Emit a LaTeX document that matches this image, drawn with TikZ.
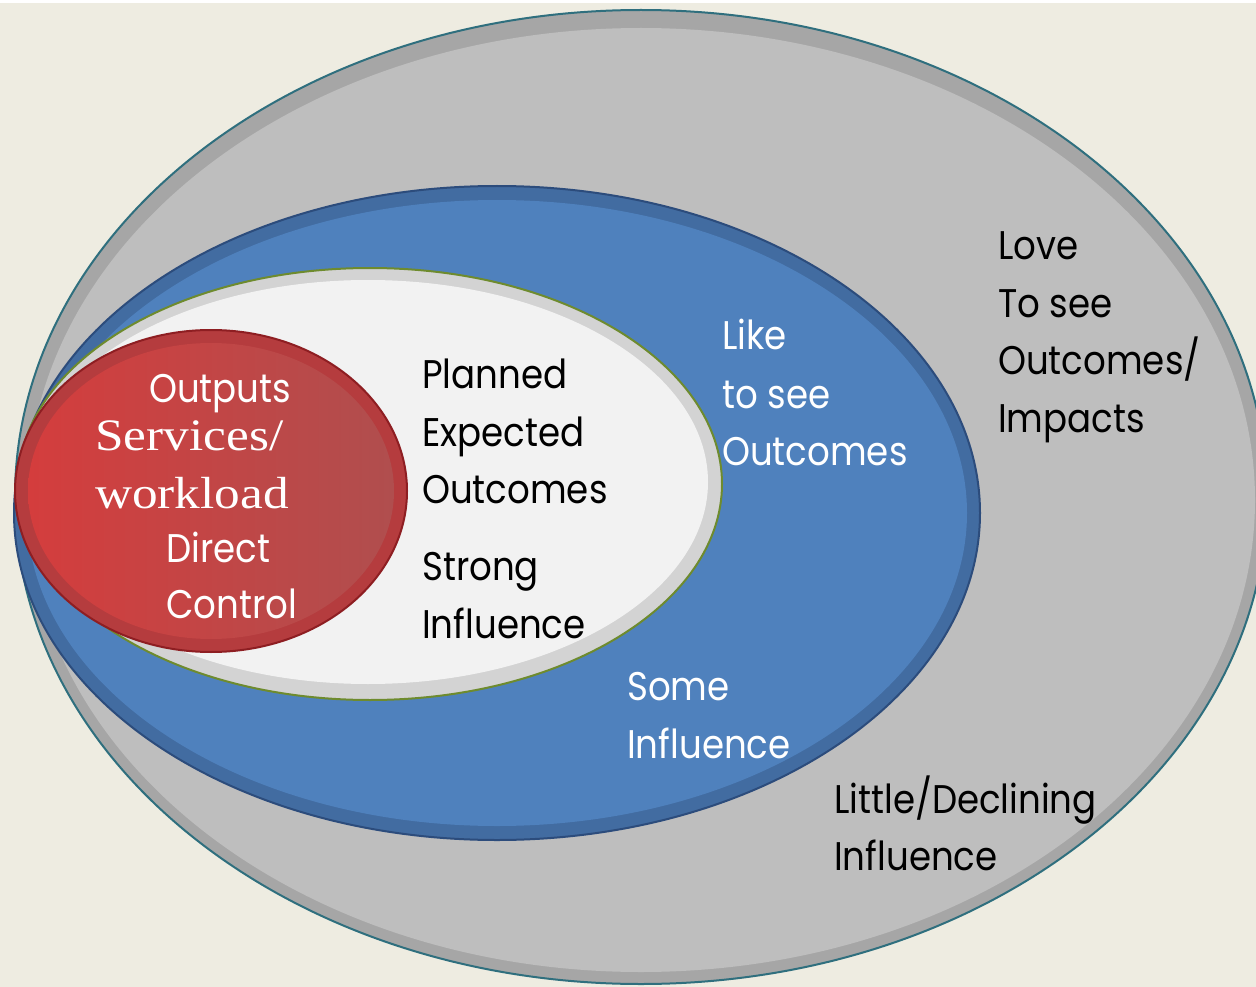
\documentclass[tikz,border=0pt]{standalone}
\usepackage{fontspec}
\setmainfont{Liberation Serif}
\newfontfamily\gothic[FakeStretch=0.89]{Poppins}
\newfontfamily\wideserif[FakeStretch=1.14]{Liberation Serif}
\usepackage{tikz}
\usetikzlibrary{positioning}
\usepackage{xcolor}

\definecolor{paper}{HTML}{EEECE1}
\definecolor{grayrim}{HTML}{2F6F7E}
\definecolor{grayband}{HTML}{A6A6A6}
\definecolor{grayfill}{HTML}{BEBEBE}
\definecolor{bluerim}{HTML}{2C4C7C}
\definecolor{blueband}{HTML}{426CA1}
\definecolor{bluefill}{HTML}{4F81BD}
\definecolor{whiterim}{HTML}{6E8B2E}
\definecolor{whiteband}{HTML}{D3D3D3}
\definecolor{whitefill}{HTML}{F2F2F2}
\definecolor{redrim}{HTML}{8E1E22}
\definecolor{redband}{HTML}{B53C3E}
\definecolor{redleft}{HTML}{D43D3D}
\definecolor{redright}{HTML}{B04E4E}

\tikzset{
  txt/.style={anchor=base west, inner sep=0pt, font=\gothic\fontsize{40}{40}\selectfont},
  txtserif/.style={anchor=base west, inner sep=0pt, font=\wideserif\fontsize{45}{45}\selectfont},
}

\begin{document}
\begin{tikzpicture}[x=1pt,y=-1pt]
        \useasboundingbox (0,0) rectangle (1256,987);
        \clip (0,0) rectangle (1256,987);
        \fill[white] (0,0) rectangle (1256,987);
        \fill[paper] (0,3) rectangle (1256,987);

        % outer ring
        \filldraw[fill=grayband, draw=grayrim, line width=2] (641,497) ellipse [x radius=626, y radius=487];
        \fill[grayfill] (641,500) ellipse [x radius=614, y radius=472];

        % blue ring
        \filldraw[fill=blueband, draw=bluerim, line width=2] (497,513) ellipse [x radius=483, y radius=327];
        \fill[bluefill] (497,513) ellipse [x radius=470, y radius=313];

        % white ring
        \filldraw[fill=whiteband, draw=whiterim, line width=2] (370,484) ellipse [x radius=352, y radius=216];
        \fill[whitefill] (368,482) ellipse [x radius=340, y radius=202];

        % red core
        \filldraw[fill=redband, draw=redrim, line width=2] (211,491) ellipse [x radius=196, y radius=161];
        \shade[left color=redleft, right color=redright] (211,491) ellipse [x radius=183, y radius=148];

        \node[txt, text=white] (outputs) at (149,402) {Outputs};
        \node[txtserif, text=white] (services) at (95,450) {Services/};
        \node[txtserif, text=white] (workload) at (95,508) {workload};
        \node[txt, text=white] (direct) at (166,562) {Direct};
        \node[txt, text=white] (control) at (166,618) {Control};

        \node[txt] (planned) at (422,388) {Planned};
        \node[txt] (expected) at (422,446) {Expected};
        \node[txt] (outcomesA) at (422,503) {Outcomes};
        \node[txt] (strong) at (422,580) {Strong};
        \node[txt] (influenceA) at (422,638) {Influence};

        \node[txt, text=white] (like) at (722,349) {Like};
        \node[txt, text=white] (tosee) at (722,408) {to see};
        \node[txt, text=white] (outcomesB) at (722,465) {Outcomes};

        \node[txt, text=white] (some) at (627,700) {Some};
        \node[txt, text=white] (influenceB) at (627,758) {Influence};

        \node[txt] (love) at (998,259) {Love};
        \node[txt] (toseeB) at (998,317) {To see};
        \node[txt] (outcomesC) at (998,374) {Outcomes/};
        \node[txt] (impacts) at (998,432) {Impacts};

        \node[txt] (little) at (834,813) {Little/Declining};
        \node[txt] (influenceC) at (834,870) {Influence};
    \end{tikzpicture}
\end{document}
